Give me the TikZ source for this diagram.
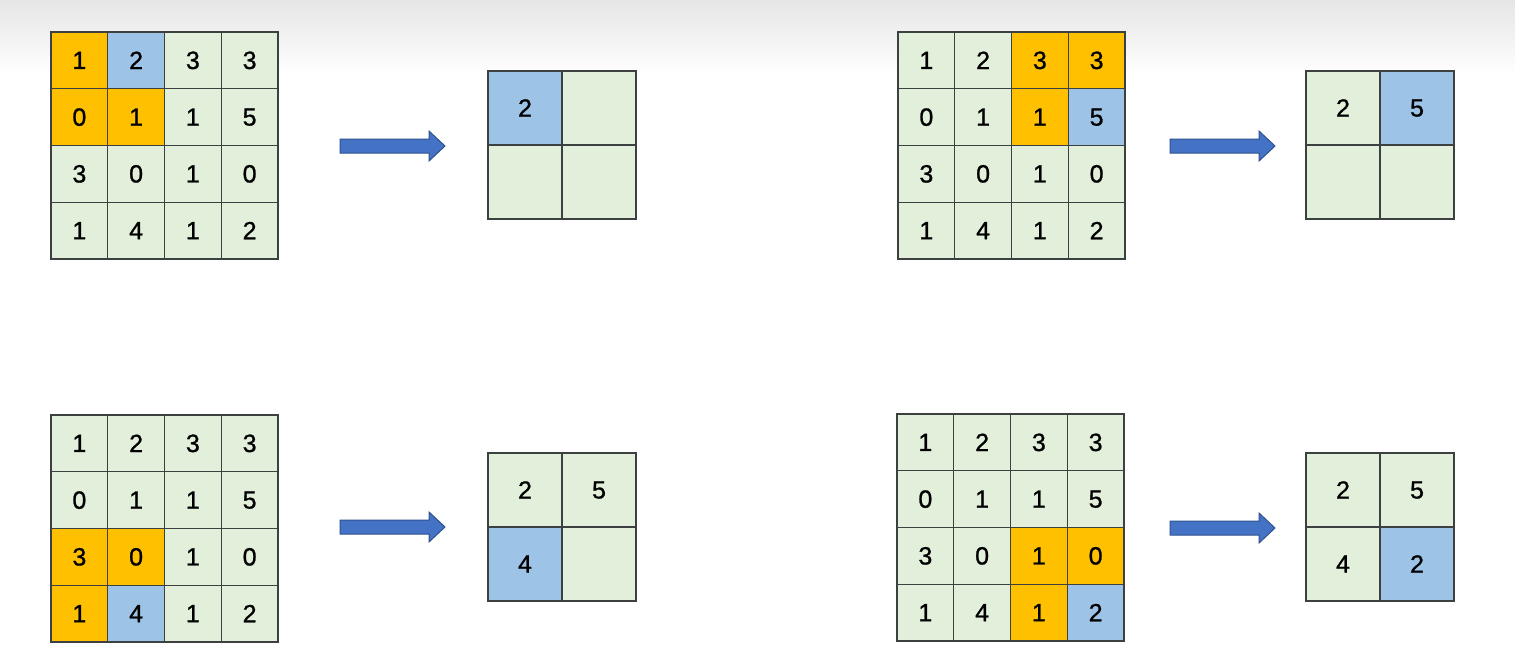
\documentclass[tikz,border=0pt]{standalone}
\usepackage{fontspec}
\setmainfont{Liberation Sans}
\newfontfamily\digitface[FakeBold=1]{Liberation Sans}

\newcommand{\celldigits}{\digitface\fontsize{25}{29}\selectfont}

% 4x4 input with the same values, fills given row by row
\newcommand{\inputgrid}[4]{%
  \foreach \cellfill [count=\k from 0] in {#4} {
    \pgfmathtruncatemacro\gr{div(\k,4)}
    \pgfmathtruncatemacro\gc{mod(\k,4)}
    \pgfmathtruncatemacro\val{{1,2,3,3,0,1,1,5,3,0,1,0,1,4,1,2}[\k]}
    \node[incell,fill=\cellfill] (#1-\gr-\gc)
      at (#2+56.75*\gc+28.375,#3+56.75*\gr+28.375) {\val};
  }}

% 2x2 output, fill/value pairs row by row
\newcommand{\outputgrid}[4]{%
  \foreach \cellfill/\val [count=\k from 0] in {#4} {
    \pgfmathtruncatemacro\gr{div(\k,2)}
    \pgfmathtruncatemacro\gc{mod(\k,2)}
    \node[outcell,fill=\cellfill] (#1-\gr-\gc)
      at (#2+74*\gc+37,#3+74*\gr+37) {\val};
  }}

% block arrow, starting at the left end of the shaft
\newcommand{\poolarrow}[2]{%
  \coordinate (#1) at (#2);
  \filldraw[pointer] (#1) ++(0,-7) -- ++(89,0) -- ++(0,-8) -- ++(16,15)
    -- ++(-16,15) -- ++(0,-8) -- ++(-89,0) -- cycle;
}

\begin{document}
\begin{tikzpicture}[x=1pt,y=-1pt,
  incell/.style={draw=gridline,line width=1.3pt,minimum size=56.75pt,
    inner sep=0pt,font=\celldigits},
  outcell/.style={incell,minimum size=74pt},
  pointer/.style={fill=arrowblue,draw=arrowedge,line width=1pt}]
\definecolor{poolorange}{RGB}{255,192,0}
\definecolor{poolblue}{RGB}{157,195,230}
\definecolor{poolgreen}{RGB}{226,239,218}
\definecolor{gridline}{RGB}{60,64,64}
\definecolor{arrowblue}{RGB}{68,114,196}
\definecolor{arrowedge}{RGB}{47,82,143}

\useasboundingbox (0,0) rectangle (1515,665);
\fill[white] (0,0) rectangle (1515,665);
\shade[top color=black!10,bottom color=white] (0,0) rectangle (1515,75);

% First window: top left.
\inputgrid{ina}{51}{32}{poolorange,poolblue,poolgreen,poolgreen,
  poolorange,poolorange,poolgreen,poolgreen,
  poolgreen,poolgreen,poolgreen,poolgreen,
  poolgreen,poolgreen,poolgreen,poolgreen}
\poolarrow{arra}{340,146}
\outputgrid{outa}{488}{71}{poolblue/2,poolgreen/{},poolgreen/{},poolgreen/{}}

% Second window: top right.
\inputgrid{inb}{898}{32}{poolgreen,poolgreen,poolorange,poolorange,
  poolgreen,poolgreen,poolorange,poolblue,
  poolgreen,poolgreen,poolgreen,poolgreen,
  poolgreen,poolgreen,poolgreen,poolgreen}
\poolarrow{arrb}{1170,146}
\outputgrid{outb}{1306}{71}{poolgreen/2,poolblue/5,poolgreen/{},poolgreen/{}}

% Third window: bottom left.
\inputgrid{inc}{51}{415}{poolgreen,poolgreen,poolgreen,poolgreen,
  poolgreen,poolgreen,poolgreen,poolgreen,
  poolorange,poolorange,poolgreen,poolgreen,
  poolorange,poolblue,poolgreen,poolgreen}
\poolarrow{arrc}{340,527}
\outputgrid{outc}{488}{453}{poolgreen/2,poolgreen/5,poolblue/4,poolgreen/{}}

% Fourth window: bottom right.
\inputgrid{ind}{897}{414}{poolgreen,poolgreen,poolgreen,poolgreen,
  poolgreen,poolgreen,poolgreen,poolgreen,
  poolgreen,poolgreen,poolorange,poolorange,
  poolgreen,poolgreen,poolorange,poolblue}
\poolarrow{arrd}{1170,528}
\outputgrid{outd}{1306}{453}{poolgreen/2,poolgreen/5,poolgreen/4,poolblue/2}
\end{tikzpicture}
\end{document}
